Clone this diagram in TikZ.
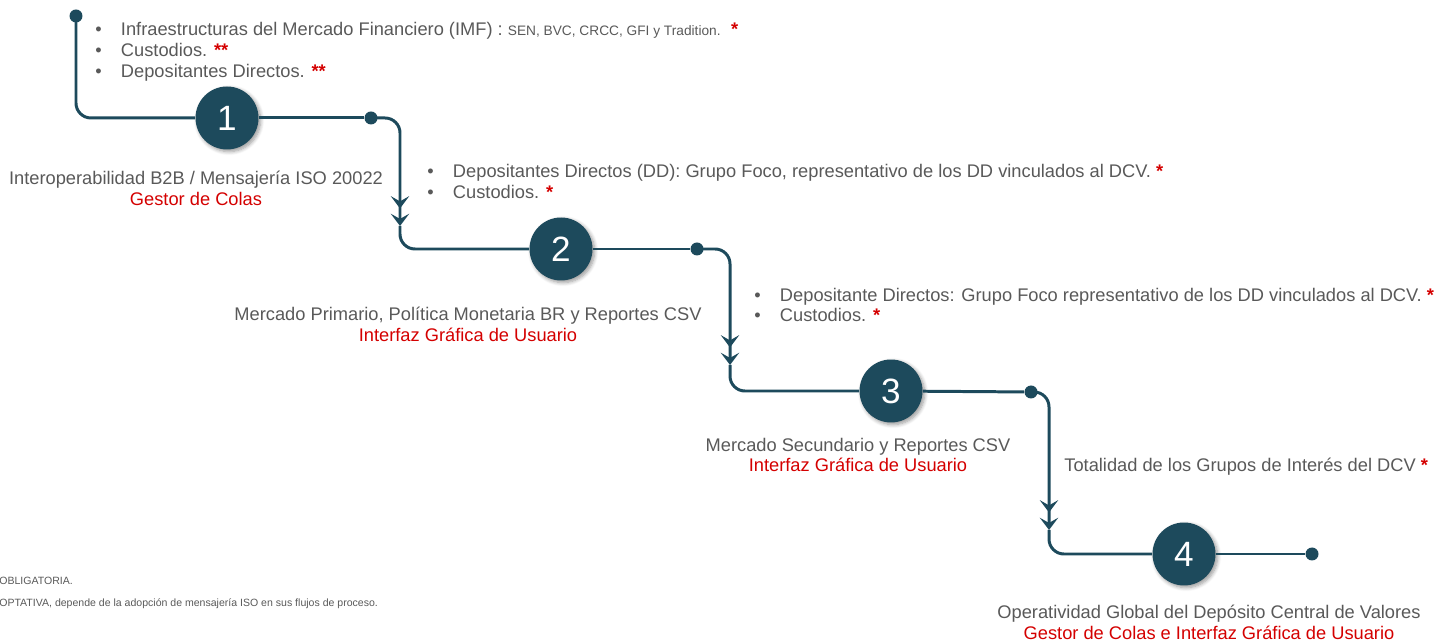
\documentclass[tikz,border=0pt]{standalone}
\usepackage{xcolor}
\usepackage{tikz}
\usepackage{fontspec}
\setmainfont{Liberation Sans}
\usetikzlibrary{arrows.meta, shadows.blur}
\definecolor{flowteal}{HTML}{1D4A5C}
\definecolor{textgray}{HTML}{595959}
\definecolor{mandred}{HTML}{D40000}
\newcommand{\itm}[1]{\makebox[14.6pt][l]{\textbullet}#1}
\newcommand{\req}[1]{{\color{mandred}\bfseries #1}}

\begin{document}
\begin{tikzpicture}[x=0.02cm, y=-0.02cm,
  flow/.style={flowteal, line width=1.7pt, rounded corners=8.5pt},
  drop/.style={flow, -{Stealth[length=7pt,width=10.5pt,inset=3pt,sep=3pt]Stealth[length=7pt,width=10.5pt,inset=3pt]}},
  stepnum/.style={circle, fill=flowteal, minimum size=1.26cm, inner sep=0pt, text=white,
    font=\fontsize{20}{20}\selectfont,
    blur shadow={shadow xshift=1.2pt, shadow yshift=-1.2pt, shadow blur steps=6}},
  dot/.style={circle, fill=flowteal, minimum size=0.26cm, inner sep=0pt},
  note/.style={textgray, font=\fontsize{10.4}{11.9}\selectfont, inner sep=0pt},
  fnote/.style={textgray, font=\fontsize{6}{7}\selectfont, inner sep=0pt, anchor=west}]
  \useasboundingbox (0,0) rectangle (1444,644);

  % Stages and turning points
  \node[dot] (s0) at (76,16) {};
  \node[stepnum] (n1) at (227,118) {1};
  \node[dot] (d1) at (371,118) {};
  \coordinate (a1) at (400,226);
  \node[stepnum] (n2) at (561,249) {2};
  \node[dot] (d2) at (697,249) {};
  \coordinate (a2) at (730,365);
  \node[stepnum] (n3) at (891,391) {3};
  \node[dot] (d3) at (1031,392) {};
  \coordinate (a3) at (1049,530);
  \node[stepnum] (n4) at (1184,554) {4};
  \node[dot] (e4) at (1312,554) {};

  % Flow line
  \draw[flow] (s0.center) |- (n1);
  \draw[flow] (n1) -- (d1);
  \draw[drop] (d1.center) -| (a1);
  \draw[flow] (a1) |- (n2);
  \draw[flow] (n2) -- (d2);
  \draw[drop] (d2.center) -| (a2);
  \draw[flow] (a2) |- (n3);
  \draw[flow] (n3) -- (d3);
  \draw[drop] (d3.center) -| (a3);
  \draw[flow] (a3) |- (n4);
  \draw[flow] (n4) -- (e4);

  % Participants
  \node[note, anchor=west, align=left] (who1) at (95,52)
    {\itm{Infraestructuras del Mercado Financiero (IMF) : {\fontsize{7.8}{9}\selectfont SEN, BVC, CRCC, GFI y Tradition.}\hspace{6pt}\req{*}}\\
     \itm{Custodios. \req{**}}\\
     \itm{Depositantes Directos. \req{**}}};
  \node[note, anchor=west, align=left] (who2) at (427,181.5)
    {\itm{Depositantes Directos (DD): Grupo Foco, representativo de los DD vinculados al DCV. \req{*}}\\
     \itm{Custodios. \req{*}}};
  \node[note, anchor=west, align=left] (who3) at (754,305)
    {\itm{Depositante Directos: Grupo Foco representativo de los DD vinculados al DCV. \req{*}}\\
     \itm{Custodios. \req{*}}};
  \node[note, anchor=west] (who4) at (1064,467) {Totalidad de los Grupos de Interés del DCV \req{*}};

  % Stage labels
  \node[note, align=center] (lab1) at (196,188)
    {Interoperabilidad B2B / Mensajería ISO 20022\\ \textcolor{mandred}{Gestor de Colas}};
  \node[note, align=center] (lab2) at (468,324)
    {Mercado Primario, Política Monetaria BR y Reportes CSV\\ \textcolor{mandred}{Interfaz Gráfica de Usuario}};
  \node[note, align=center] (lab3) at (858,455)
    {Mercado Secundario y Reportes CSV\\ \textcolor{mandred}{Interfaz Gráfica de Usuario}};
  \node[note, align=center] (lab4) at (1209,622)
    {Operatividad Global del Depósito Central de Valores\\ \textcolor{mandred}{Gestor de Colas e Interfaz Gráfica de Usuario}};

  % Footnotes
  \node[fnote] (fn1) at (-1,581) {OBLIGATORIA.};
  \node[fnote] (fn2) at (-1,604) {OPTATIVA, depende de la adopción de mensajería ISO en sus flujos de proceso.};
\end{tikzpicture}
\end{document}
